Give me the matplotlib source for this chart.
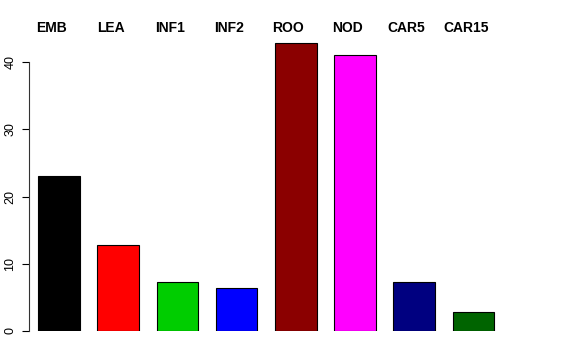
import matplotlib
matplotlib.use("Agg")
import matplotlib.pyplot as plt
import matplotlib.transforms as mtransforms

labels = ["EMB", "LEA", "INF1", "INF2", "ROO", "NOD", "CAR5", "CAR15"]
values = [23.1, 12.8, 7.3, 6.4, 42.8, 41.0, 7.3, 2.8]
colors = ["#000000", "#FF0000", "#00CD00", "#0000FF", "#8B0000", "#FF00FF", "#000080", "#006400"]

plt.rcParams["font.family"] = ["Liberation Sans", "DejaVu Sans"]

W, H = 576, 360
fig = plt.figure(figsize=(W / 100, H / 100), dpi=100)
# axes box in pixels: left 29, right 520, bottom y=331, top y=40
ax = fig.add_axes([29 / W, (H - 331) / H, (520 - 29) / W, (331 - 40) / H])

x = list(range(len(labels)))
ax.bar(x, values, width=0.7, color=colors, edgecolor="black", linewidth=0.8)

ax.set_xlim((29 - 59) / 59.2, (520 - 59) / 59.2)
ax.set_ylim(0, (331 - 40) / 6.725)

for s in ["top", "right", "bottom"]:
    ax.spines[s].set_visible(False)
ax.spines["left"].set_bounds(0, 40)
ax.spines["left"].set_color("#333333")
ax.set_xticks([])
ax.set_yticks([0, 10, 20, 30, 40])
ax.tick_params(axis="y", length=5, labelsize=9, pad=4)
for t in ax.get_yticklabels():
    t.set_rotation(90)
    t.set_va("center")

trans = mtransforms.blended_transform_factory(ax.transData, fig.transFigure)
for i, lab in enumerate(labels):
    ax.text(i - 0.13, 1 - 28 / H, lab, transform=trans, ha="center", va="center",
            fontsize=10, fontweight="bold", clip_on=False)

fig.savefig("out.png", dpi=100)
